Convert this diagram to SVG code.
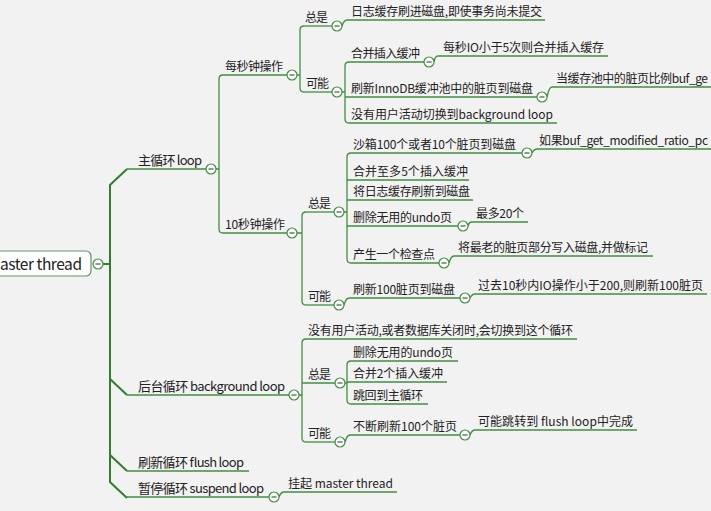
<svg xmlns="http://www.w3.org/2000/svg" width="711" height="511" viewBox="0 0 711 511">
<defs>
<style>
text{font-family:"Noto Sans CJK SC","Noto Sans",sans-serif;fill:#222;font-size:12px}
.l1{font-size:13px}
.root{font-size:15.5px}
.ul{stroke:#3f8f3f;stroke-width:1.3;fill:none}
.cn{stroke:#3f8f3f;stroke-width:1.3;fill:none}
.tr{stroke:#2f7f2f;stroke-width:2;fill:none}
.c{fill:#fafafa;stroke:#3f8f3f;stroke-width:1.2}
.m{stroke:#444;stroke-width:1.1}
</style>
<g id="col"><circle class="c" cx="0" cy="0" r="5"/><line class="m" x1="-2.5" y1="0" x2="2.5" y2="0"/></g>
</defs>
<rect width="711" height="511" fill="#f2f2f2"/>

<g id="connectors">
<path class="tr" d="M103,264 H110 M127,169 L110,185 V482 L127,498 M110,379 L127,395 M110,455 L127,471"/>
<path class="cn" d="M216,169 H219 M223,75 Q219,75 219,79 V229 Q219,233 223,233"/>
<path class="cn" d="M297,75 H300 M304,26 Q300,26 300,30 V88 Q300,92 304,92"/>
<path class="cn" d="M342,26 Q344,20 347,20"/>
<path class="cn" d="M342,92 H345 M349,62 Q345,62 345,66 V119 Q345,123 349,123"/>
<path class="cn" d="M434,62 Q435,56 438,56"/>
<path class="cn" d="M547,97 Q549,87 552,87"/>
<path class="cn" d="M297,233 H302 M306,212 Q302,212 302,216 V301 Q302,305 306,305"/>
<path class="cn" d="M344,212 H347 M351,153 Q347,153 347,157 V259 Q347,263 351,263"/>
<path class="cn" d="M532,153 Q534,149 537,149"/>
<path class="cn" d="M468,226 Q469,222 472,222"/>
<path class="cn" d="M449,263 Q451,256 454,256"/>
<path class="cn" d="M344,305 Q346,298 349,298"/>
<path class="cn" d="M470,298 Q472,294 475,294"/>
<path class="cn" d="M299,395 H302 M306,339 Q302,339 302,343 V438 Q302,442 306,442"/>
<path class="cn" d="M345,383 H347 M351,361 Q347,361 347,365 V400 Q347,404 351,404"/>
<path class="cn" d="M345,442 Q347,435 350,435"/>
<path class="cn" d="M470,435 Q472,430 475,430"/>
<path class="cn" d="M279,497 Q281,492 284,492"/>
</g>

<g id="root">
<rect x="-10" y="251" width="101" height="25" rx="5" fill="#ffffff" stroke="#6a8f6a" stroke-width="1.2"/>
<text class="root" x="0" y="269.5" textLength="82">aster thread</text>
<use href="#col" x="98" y="264"/>
</g>

<g id="main-loop"><text class="l1" x="138" y="165" textLength="64">主循环 loop</text><line class="ul" x1="127" y1="169" x2="206" y2="169"/><use href="#col" x="211" y="169"/></g>
<g id="bg-loop"><text class="l1" x="138" y="391" textLength="147">后台循环 background loop</text><line class="ul" x1="127" y1="395" x2="289" y2="395"/><use href="#col" x="294" y="395"/></g>
<g id="flush-loop"><text class="l1" x="138" y="467" textLength="106">刷新循环 flush loop</text><line class="ul" x1="127" y1="471" x2="249" y2="471"/></g>
<g id="suspend-loop"><text class="l1" x="138" y="493" textLength="126">暂停循环 suspend loop</text><line class="ul" x1="127" y1="497" x2="269" y2="497"/><use href="#col" x="274" y="497"/></g>
<g id="suspend-1"><text x="288" y="488" textLength="105">挂起 master thread</text><line class="ul" x1="284" y1="492" x2="397" y2="492"/></g>

<g id="per-sec"><text x="225" y="71" textLength="58">每秒钟操作</text><line class="ul" x1="223" y1="75" x2="287" y2="75"/><use href="#col" x="292" y="75"/></g>
<g id="ps-always"><text x="305" y="22" textLength="23">总是</text><line class="ul" x1="304" y1="26" x2="332" y2="26"/><use href="#col" x="337" y="26"/></g>
<g id="ps-always-1"><text x="351" y="16" textLength="191">日志缓存刷进磁盘,即使事务尚未提交</text><line class="ul" x1="347" y1="20" x2="545" y2="20"/></g>
<g id="ps-maybe"><text x="306" y="88" textLength="23">可能</text><line class="ul" x1="304" y1="92" x2="332" y2="92"/><use href="#col" x="337" y="92"/></g>
<g id="ps-maybe-1"><text x="351" y="58" textLength="69">合并插入缓冲</text><line class="ul" x1="349" y1="62" x2="424" y2="62"/><use href="#col" x="429" y="62"/></g>
<g id="ps-maybe-1a"><text x="443" y="52" textLength="161">每秒IO小于5次则合并插入缓存</text><line class="ul" x1="438" y1="56" x2="608" y2="56"/></g>
<g id="ps-maybe-2"><text x="351" y="93" textLength="182">刷新InnoDB缓冲池中的脏页到磁盘</text><line class="ul" x1="345" y1="97" x2="537" y2="97"/><use href="#col" x="542" y="97"/></g>
<g id="ps-maybe-2a"><text x="556" y="83" textLength="152">当缓存池中的脏页比例buf_ge</text><line class="ul" x1="552" y1="87" x2="711" y2="87"/></g>
<g id="ps-maybe-3"><text x="351" y="119" textLength="202">没有用户活动切换到background loop</text><line class="ul" x1="349" y1="123" x2="557" y2="123"/></g>

<g id="ten-sec"><text x="225" y="229" textLength="60">10秒钟操作</text><line class="ul" x1="223" y1="233" x2="287" y2="233"/><use href="#col" x="292" y="233"/></g>
<g id="ts-always"><text x="308" y="208" textLength="23">总是</text><line class="ul" x1="306" y1="212" x2="334" y2="212"/><use href="#col" x="339" y="212"/></g>
<g id="ts-always-1"><text x="353" y="149" textLength="163">沙箱100个或者10个脏页到磁盘</text><line class="ul" x1="351" y1="153" x2="522" y2="153"/><use href="#col" x="527" y="153"/></g>
<g id="ts-always-1a"><text x="539" y="145" textLength="169">如果buf_get_modified_ratio_pc</text><line class="ul" x1="537" y1="149" x2="711" y2="149"/></g>
<g id="ts-always-2"><text x="353" y="176" textLength="115">合并至多5个插入缓冲</text><line class="ul" x1="347" y1="180" x2="469" y2="180"/></g>
<g id="ts-always-3"><text x="353" y="196" textLength="117">将日志缓存刷新到磁盘</text><line class="ul" x1="347" y1="200" x2="473" y2="200"/></g>
<g id="ts-always-4"><text x="353" y="222" textLength="99">删除无用的undo页</text><line class="ul" x1="347" y1="226" x2="458" y2="226"/><use href="#col" x="463" y="226"/></g>
<g id="ts-always-4a"><text x="476" y="218" textLength="48">最多20个</text><line class="ul" x1="472" y1="222" x2="528" y2="222"/></g>
<g id="ts-always-5"><text x="353" y="259" textLength="82">产生一个检查点</text><line class="ul" x1="351" y1="263" x2="439" y2="263"/><use href="#col" x="444" y="263"/></g>
<g id="ts-always-5a"><text x="458" y="252" textLength="190">将最老的脏页部分写入磁盘,并做标记</text><line class="ul" x1="454" y1="256" x2="653" y2="256"/></g>
<g id="ts-maybe"><text x="308" y="301" textLength="23">可能</text><line class="ul" x1="306" y1="305" x2="334" y2="305"/><use href="#col" x="339" y="305"/></g>
<g id="ts-maybe-1"><text x="353" y="294" textLength="102">刷新100脏页到磁盘</text><line class="ul" x1="349" y1="298" x2="460" y2="298"/><use href="#col" x="465" y="298"/></g>
<g id="ts-maybe-1a"><text x="478" y="290" textLength="225">过去10秒内IO操作小于200,则刷新100脏页</text><line class="ul" x1="475" y1="294" x2="707" y2="294"/></g>

<g id="bg-1"><text x="308" y="335" textLength="265">没有用户活动,或者数据库关闭时,会切换到这个循环</text><line class="ul" x1="306" y1="339" x2="577" y2="339"/></g>
<g id="bg-always"><text x="308" y="379" textLength="23">总是</text><line class="ul" x1="302" y1="383" x2="335" y2="383"/><use href="#col" x="340" y="383"/></g>
<g id="bg-always-1"><text x="353" y="357" textLength="100">删除无用的undo页</text><line class="ul" x1="351" y1="361" x2="458" y2="361"/></g>
<g id="bg-always-2"><text x="353" y="378" textLength="90">合并2个插入缓冲</text><line class="ul" x1="347" y1="382" x2="447" y2="382"/></g>
<g id="bg-always-3"><text x="353" y="400" textLength="70">跳回到主循环</text><line class="ul" x1="351" y1="404" x2="428" y2="404"/></g>
<g id="bg-maybe"><text x="308" y="438" textLength="23">可能</text><line class="ul" x1="306" y1="442" x2="335" y2="442"/><use href="#col" x="340" y="442"/></g>
<g id="bg-maybe-1"><text x="353" y="431" textLength="104">不断刷新100个脏页</text><line class="ul" x1="350" y1="435" x2="460" y2="435"/><use href="#col" x="465" y="435"/></g>
<g id="bg-maybe-1a"><text x="478" y="426" textLength="155">可能跳转到 flush loop中完成</text><line class="ul" x1="475" y1="430" x2="637" y2="430"/></g>
</svg>
